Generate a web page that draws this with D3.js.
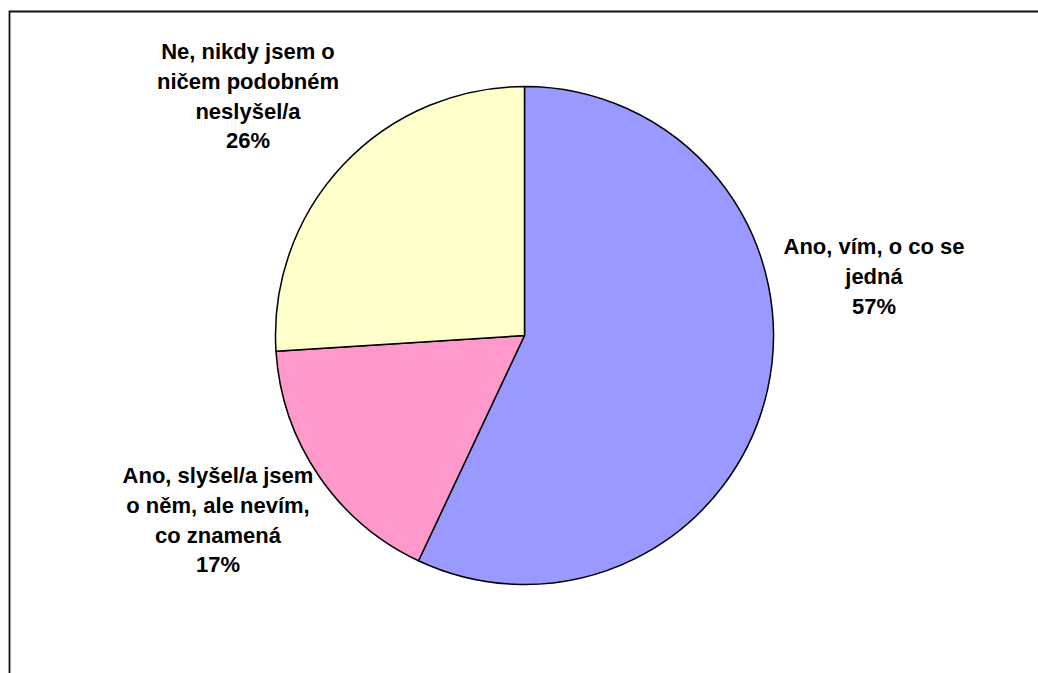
<!DOCTYPE html>
<html>
<head>
<meta charset="utf-8">
<script src="https://cdn.jsdelivr.net/npm/d3@7"></script>
<style>
  html, body { margin: 0; padding: 0; background: #fff; }
  svg { display: block; }
  text { font-family: "Liberation Sans", Arial, sans-serif; font-weight: bold; fill: #000; }
</style>
</head>
<body>
<svg id="chart" width="1038" height="673"></svg>
<script>
// Survey answers, clockwise from 12 o'clock
const categories = [
  "Ano, vím, o co se jedná",
  "Ano, slyšel/a jsem o něm, ale nevím, co znamená",
  "Ne, nikdy jsem o ničem podobném neslyšel/a"
];
const values = [57, 17, 26];
const colors = ["#9999FF", "#FF99CC", "#FFFFCC"];
// Label lines as wrapped in the chart
const labelLines = [
  ["Ano, vím, o co se", "jedná", "57%"],
  ["Ano, slyšel/a jsem", "o něm, ale nevím,", "co znamená", "17%"],
  ["Ne, nikdy jsem o", "ničem podobném", "neslyšel/a", "26%"]
];

const svg = d3.select("#chart");
const W = 1038, H = 673;

// chart frame (top and left edges visible)
svg.append("path")
  .attr("d", `M9.5,${H} L9.5,11.5 L${W},11.5`)
  .attr("fill", "none")
  .attr("stroke", "#111")
  .attr("stroke-width", 1.8);

const cx = 524.5, cy = 335.5, r = 249;

const pie = d3.pie().sort(null).value(d => d)(values);
const arc = d3.arc().innerRadius(0).outerRadius(r);

const g = svg.append("g").attr("transform", `translate(${cx},${cy})`);
g.selectAll("path.slice")
  .data(pie)
  .join("path")
  .attr("class", "slice")
  .attr("d", arc)
  .attr("fill", (d, i) => colors[i])
  .attr("stroke", "#000")
  .attr("stroke-width", 1.5)
  .attr("stroke-linejoin", "round");

// label anchors (centre of first line) placed outside the slices
const labelPos = [
  { x: 874, y: 246 },
  { x: 218, y: 475 },
  { x: 248, y: 51 }
];
const lineH = 29.8;

svg.selectAll("text.lbl")
  .data(labelLines)
  .join("text")
  .attr("class", "lbl")
  .attr("text-anchor", "middle")
  .attr("font-size", 22)
  .each(function (lines, i) {
    const t = d3.select(this);
    lines.forEach((s, k) => {
      t.append("tspan")
        .attr("x", labelPos[i].x)
        .attr("y", labelPos[i].y + k * lineH)
        .attr("dy", "0.36em")
        .text(s);
    });
  });
</script>
</body>
</html>
